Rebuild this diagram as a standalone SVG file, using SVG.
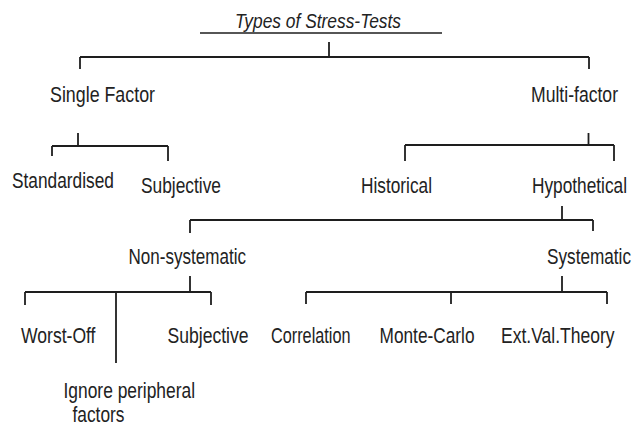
<svg xmlns="http://www.w3.org/2000/svg" width="632" height="428" viewBox="0 0 632 428">
<style>
.t{font-family:"Liberation Sans",Arial,sans-serif;font-size:17px;fill:#222;}
.title{font-style:italic;font-size:16.8px;}
.c line{stroke:#1e1e1e;stroke-width:1.8;stroke-linecap:butt;}
.c .thin{stroke-width:1.3;}
</style>
<rect width="632" height="428" fill="#fff"/>
<g id="connectors" class="c">
<line class="thin" x1="200" y1="33" x2="442" y2="33"/>
<line x1="329" y1="42" x2="329" y2="57"/>
<line x1="80" y1="57" x2="589" y2="57"/>
<line x1="80" y1="57" x2="80" y2="69"/>
<line x1="589" y1="57" x2="589" y2="69"/>
<line x1="78" y1="133" x2="78" y2="146"/>
<line x1="52" y1="146" x2="168" y2="146"/>
<line x1="52" y1="146" x2="52" y2="156"/>
<line x1="168" y1="146" x2="168" y2="161"/>
<line x1="588.5" y1="133" x2="588.5" y2="145"/>
<line x1="405" y1="145" x2="614" y2="145"/>
<line x1="405" y1="145" x2="405" y2="161"/>
<line x1="614" y1="145" x2="614" y2="161"/>
<line x1="562" y1="206" x2="562" y2="220"/>
<line x1="190" y1="220" x2="593" y2="220"/>
<line x1="190" y1="220" x2="190" y2="233"/>
<line x1="593" y1="220" x2="593" y2="231"/>
<line x1="190" y1="276" x2="190" y2="292"/>
<line x1="25" y1="292" x2="211" y2="292"/>
<line x1="25" y1="292" x2="25" y2="305"/>
<line x1="211" y1="292" x2="211" y2="305"/>
<line x1="116" y1="292" x2="116" y2="363"/>
<line x1="562" y1="276" x2="562" y2="292"/>
<line x1="306" y1="292" x2="607" y2="292"/>
<line x1="306" y1="292" x2="306" y2="304"/>
<line x1="451" y1="292" x2="451" y2="304"/>
<line x1="607" y1="292" x2="607" y2="304"/>
</g>
<g id="root"><text class="t title" transform="translate(235,28.3) scale(1,1.18)" textLength="166" lengthAdjust="spacingAndGlyphs">Types of Stress-Tests</text></g>
<g id="single-factor"><text class="t" transform="translate(50,102) scale(1,1.27)" textLength="105" lengthAdjust="spacingAndGlyphs">Single Factor</text></g>
<g id="multi-factor"><text class="t" transform="translate(531,102) scale(1,1.27)" textLength="87" lengthAdjust="spacingAndGlyphs">Multi-factor</text></g>
<g id="standardised"><text class="t" transform="translate(12,188) scale(1,1.27)" textLength="102" lengthAdjust="spacingAndGlyphs">Standardised</text></g>
<g id="subjective-1"><text class="t" transform="translate(141,193) scale(1,1.27)" textLength="80" lengthAdjust="spacingAndGlyphs">Subjective</text></g>
<g id="historical"><text class="t" transform="translate(361,193) scale(1,1.27)" textLength="71" lengthAdjust="spacingAndGlyphs">Historical</text></g>
<g id="hypothetical"><text class="t" transform="translate(532,193) scale(1,1.27)" textLength="95" lengthAdjust="spacingAndGlyphs">Hypothetical</text></g>
<g id="non-systematic"><text class="t" transform="translate(128.5,264) scale(1,1.27)" textLength="117.5" lengthAdjust="spacingAndGlyphs">Non-systematic</text></g>
<g id="systematic"><text class="t" transform="translate(547,263.5) scale(1,1.27)" textLength="84" lengthAdjust="spacingAndGlyphs">Systematic</text></g>
<g id="worst-off"><text class="t" transform="translate(21,343) scale(1,1.27)" textLength="74.5" lengthAdjust="spacingAndGlyphs">Worst-Off</text></g>
<g id="ignore-peripheral"><text class="t" transform="translate(63.5,398) scale(1,1.27)" textLength="131.5" lengthAdjust="spacingAndGlyphs">Ignore peripheral</text><text class="t" transform="translate(72.5,422) scale(1,1.27)" textLength="52" lengthAdjust="spacingAndGlyphs">factors</text></g>
<g id="subjective-2"><text class="t" transform="translate(167.5,343) scale(1,1.27)" textLength="81" lengthAdjust="spacingAndGlyphs">Subjective</text></g>
<g id="correlation"><text class="t" transform="translate(271,343) scale(1,1.27)" textLength="79.5" lengthAdjust="spacingAndGlyphs">Correlation</text></g>
<g id="monte-carlo"><text class="t" transform="translate(379.5,343) scale(1,1.27)" textLength="95" lengthAdjust="spacingAndGlyphs">Monte-Carlo</text></g>
<g id="ext-val-theory"><text class="t" transform="translate(501,343) scale(1,1.27)" textLength="113.5" lengthAdjust="spacingAndGlyphs">Ext.Val.Theory</text></g>
</svg>
